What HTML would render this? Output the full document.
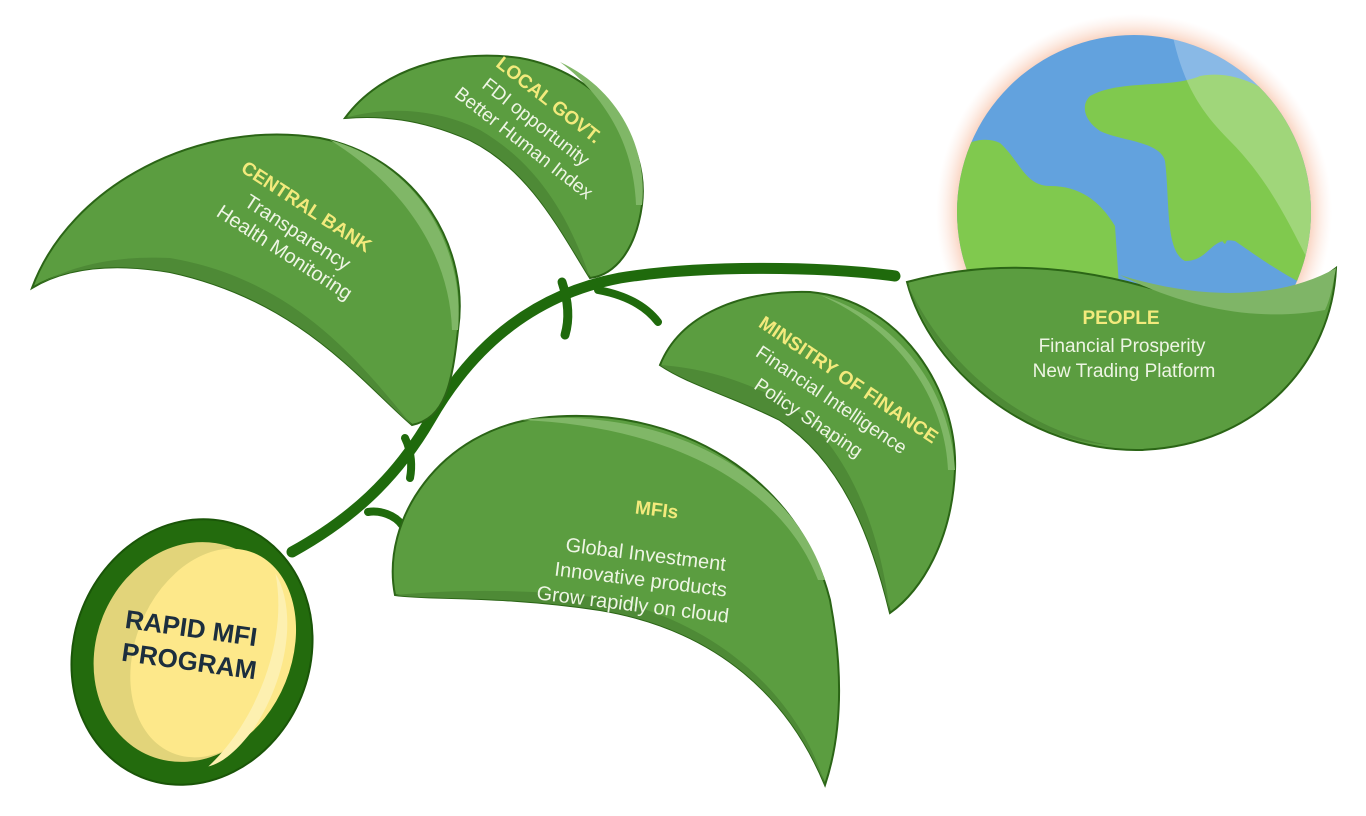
<!DOCTYPE html>
<html><head><meta charset="utf-8"><style>
html,body{margin:0;padding:0;background:#fff;width:1366px;height:816px;overflow:hidden}
svg{display:block}
.t{font-family:"Liberation Sans",sans-serif;font-weight:bold;fill:#f3ea7c}
.w{font-family:"Liberation Sans",sans-serif;fill:#eef5e4}
</style></head><body>
<svg width="1366" height="816" viewBox="0 0 1366 816" xmlns="http://www.w3.org/2000/svg">
<defs>
<radialGradient id="glow" cx="50%" cy="50%" r="50%">
<stop offset="88%" stop-color="#f8c8b0" stop-opacity="0.9"/>
<stop offset="100%" stop-color="#fde6dc" stop-opacity="0"/>
</radialGradient>
<clipPath id="gc"><circle cx="1134" cy="212" r="177"/></clipPath>
</defs>

<!-- globe -->
<circle cx="1134" cy="212" r="198" fill="url(#glow)"/>
<g clip-path="url(#gc)">
<rect x="950" y="20" width="370" height="380" fill="#62a2de"/>
<g transform="translate(0,-39)">
<path d="M1090,135 C1120,118 1170,128 1200,115 C1250,105 1300,150 1320,180 L1320,330 C1290,320 1250,290 1235,280 C1210,275 1210,300 1185,300 C1165,290 1170,240 1165,200 C1160,180 1120,180 1100,170 C1085,160 1080,145 1090,135 Z" fill="#80c94e"/>
<path d="M950,190 C970,180 985,175 1000,182 C1020,200 1025,225 1050,225 C1080,225 1100,240 1115,265 L1120,340 L950,340 Z" fill="#80c94e"/>
<path d="M1225,262 C1230,265 1228,280 1225,283 C1220,280 1220,268 1225,262Z" fill="#80c94e"/>
<path d="M1170,60 L1320,60 L1320,320 C1300,290 1280,230 1230,180 C1200,150 1180,120 1170,60 Z" fill="#ffffff" opacity="0.25"/>
</g>
</g>

<!-- stem -->
<g fill="none" stroke="#1f6a0c" stroke-linecap="round">
<path d="M292,552 C350,520 395,480 430,420 C470,350 530,295 620,278 C700,265 820,266 895,276" stroke-width="11"/>
<path d="M562,282 C568,300 570,318 565,335" stroke-width="9"/>
<path d="M598,290 C625,295 645,305 658,322" stroke-width="8"/>
<path d="M405,438 C412,452 412,468 410,478" stroke-width="8"/>
<path d="M368,512 C380,510 395,515 402,525" stroke-width="8"/>
</g>

<!-- central bank leaf -->
<path d="M32,288 C70,185 200,118 320,138 C420,158 470,250 458,330 C452,385 445,418 412,425 C360,380 300,300 170,272 C110,262 65,268 32,288 Z" fill="#5b9d40" stroke="#2b6516" stroke-width="2"/>
<path d="M32,288 C65,268 110,255 170,258 C300,280 365,370 412,425 C360,380 300,300 170,272 C110,262 65,268 32,288Z" fill="#4e8a36"/>
<path d="M330,140 C420,165 465,250 458,330 L452,330 C450,260 410,190 330,140Z" fill="#80b767"/>
<text transform="translate(303,212) rotate(33)" text-anchor="middle" class="t" font-size="19">CENTRAL BANK</text>
<text transform="translate(294,238) rotate(33)" text-anchor="middle" class="w" font-size="20">Transparency</text>
<text transform="translate(281,258) rotate(33)" text-anchor="middle" class="w" font-size="20">Health Monitoring</text>

<!-- local govt leaf -->
<path d="M345,118 C380,70 450,48 520,58 C600,72 650,140 642,205 C636,250 615,275 590,278 C560,230 530,170 470,140 C420,118 380,115 345,118 Z" fill="#5b9d40" stroke="#2b6516" stroke-width="2"/>
<path d="M345,118 C390,105 440,110 480,130 C540,165 570,220 590,278 C560,230 530,170 470,140 C420,118 380,115 345,118Z" fill="#4e8a36"/>
<path d="M560,62 C620,90 648,150 642,205 L636,205 C634,150 610,100 560,62Z" fill="#80b767"/>
<text transform="translate(545,105) rotate(38)" text-anchor="middle" class="t" font-size="19">LOCAL GOVT.</text>
<text transform="translate(532,127) rotate(38)" text-anchor="middle" class="w" font-size="19">FDI opportunity</text>
<text transform="translate(520,148) rotate(38)" text-anchor="middle" class="w" font-size="19">Better Human Index</text>

<!-- ministry leaf -->
<path d="M660,365 C680,315 740,290 810,292 C900,300 958,390 955,470 C952,540 922,590 890,613 C870,530 840,460 780,420 C730,395 690,385 660,365 Z" fill="#5b9d40" stroke="#2b6516" stroke-width="2"/>
<path d="M660,365 C700,368 740,378 790,405 C850,450 880,530 890,613 C870,530 840,460 780,420 C730,395 690,385 660,365Z" fill="#4e8a36"/>
<path d="M820,295 C900,320 950,390 955,470 L948,470 C945,400 900,330 820,295Z" fill="#80b767"/>
<text transform="translate(845,385) rotate(34)" text-anchor="middle" class="t" font-size="19">MINSITRY OF FINANCE</text>
<text transform="translate(828,405) rotate(34)" text-anchor="middle" class="w" font-size="19">Financial Intelligence</text>
<text transform="translate(805,423) rotate(34)" text-anchor="middle" class="w" font-size="19">Policy Shaping</text>

<!-- MFIs leaf -->
<path d="M395,595 C380,520 440,430 540,418 C680,402 800,480 830,600 C845,680 840,740 825,785 C790,700 720,630 600,610 C500,595 430,600 395,595 Z" fill="#5b9d40" stroke="#2b6516" stroke-width="2"/>
<path d="M395,595 C450,590 520,588 600,598 C720,620 800,700 825,785 C790,700 720,630 600,610 C500,595 430,600 395,595Z" fill="#4e8a36"/>
<path d="M520,420 C660,405 790,470 825,580 L818,580 C780,480 660,425 520,420Z" fill="#80b767"/>
<text transform="translate(656,516) rotate(7)" text-anchor="middle" class="t" font-size="19">MFIs</text>
<text transform="translate(645,561) rotate(7)" text-anchor="middle" class="w" font-size="20">Global Investment</text>
<text transform="translate(640,586) rotate(7)" text-anchor="middle" class="w" font-size="20">Innovative products</text>
<text transform="translate(632,611) rotate(7)" text-anchor="middle" class="w" font-size="20">Grow rapidly on cloud</text>

<!-- people leaf -->
<path d="M907,282 C930,370 1030,452 1140,450 C1260,446 1332,360 1336,268 C1295,300 1230,305 1150,288 C1060,262 980,262 907,282 Z" fill="#5b9d40" stroke="#2b6516" stroke-width="2"/>
<path d="M907,282 C940,360 1020,430 1110,445 C1030,440 940,380 907,282Z" fill="#4e8a36"/>
<path d="M1120,275 C1200,300 1280,300 1336,268 C1333,285 1330,300 1325,310 C1270,320 1200,315 1120,275Z" fill="#7fb567"/>
<text x="1121" y="324" text-anchor="middle" class="t" font-size="19">PEOPLE</text>
<text x="1122" y="352" text-anchor="middle" class="w" font-size="19">Financial Prosperity</text>
<text x="1124" y="377" text-anchor="middle" class="w" font-size="19">New Trading Platform</text>

<!-- seed -->
<g transform="rotate(22 192 652)">
<ellipse cx="192" cy="652" rx="118" ry="135" fill="#236b0d" stroke="#1a5508" stroke-width="2"/>
<ellipse cx="192" cy="652" rx="96" ry="112" fill="#e2d47a"/>
<ellipse cx="212" cy="645" rx="78" ry="108" fill="#fde88a"/>
<path d="M240,548 C275,575 290,640 278,700 C270,730 260,745 250,752 C275,700 280,610 240,548Z" fill="#fdf0b0"/>
</g>
<text transform="translate(190,637) rotate(8)" text-anchor="middle" font-family="Liberation Sans,sans-serif" font-weight="bold" font-size="26" fill="#1c2e3e">RAPID MFI</text>
<text transform="translate(188,670) rotate(8)" text-anchor="middle" font-family="Liberation Sans,sans-serif" font-weight="bold" font-size="26" fill="#1c2e3e">PROGRAM</text>
</svg>
</body></html>
